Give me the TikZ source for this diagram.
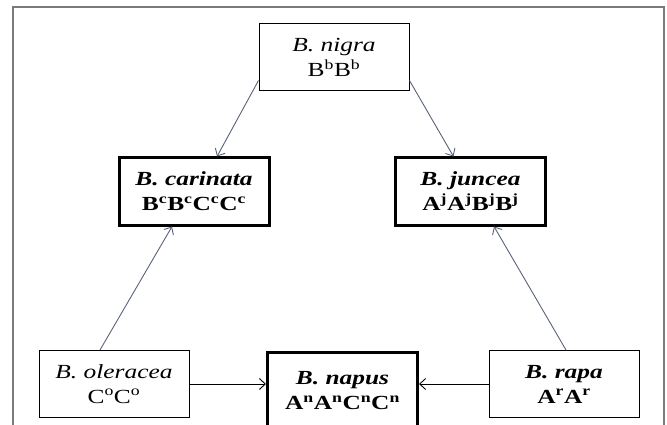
\documentclass[tikz,border=0pt]{standalone}
\usepackage{fontspec}
\setmainfont[FakeStretch=1.27]{Liberation Serif}
\usetikzlibrary{arrows.meta,calc}
\definecolor{framegray}{HTML}{7A7A7A}
\definecolor{arrowslate}{HTML}{5A6278}
\begin{document}
\begin{tikzpicture}[x=1pt,y=-1pt,
  species/.style={draw=black,line width=1pt,align=center,inner sep=0pt,
    minimum width=150pt,minimum height=67pt,
    font=\fontsize{20}{25}\selectfont},
  hybrid/.style={species,line width=3pt},
  link/.style={draw=arrowslate,line width=0.9pt,-{Straight Barb[length=6pt,width=11pt]}},
  hlink/.style={link,draw=black}]
\useasboundingbox (0,0) rectangle (667,425);
\draw[framegray,line width=1.5pt] (13,432) -- (13,7) -- (664,7) -- (664,432);
\node[species] (nigra) at (334,57.5) {\textit{B. nigra}\\B\textsuperscript{b}B\textsuperscript{b}};
\node[hybrid] (carinata) at (194,191.5) {\textbf{\textit{B. carinata}}\\\textbf{B\textsuperscript{c}B\textsuperscript{c}C\textsuperscript{c}C\textsuperscript{c}}};
\node[hybrid] (juncea) at (470.5,191.5) {\textbf{\textit{B. juncea}}\\\textbf{A\textsuperscript{j}A\textsuperscript{j}B\textsuperscript{j}B\textsuperscript{j}}};
\node[species] (oleracea) at (114,384) {\textit{B. oleracea}\\C\textsuperscript{o}C\textsuperscript{o}};
\node[hybrid,minimum height=78pt] (napus) at (342.5,391) {\textbf{\textit{B. napus}}\\\textbf{A\textsuperscript{n}A\textsuperscript{n}C\textsuperscript{n}C\textsuperscript{n}}};
\node[species] (rapa) at (564,384) {\textbf{\textit{B. rapa}}\\\textbf{A\textsuperscript{r}A\textsuperscript{r}}};
\draw[link] ($(nigra.south west)+(0,-11)$) -- ($(carinata.north)+(23,0)$);
\draw[link] ($(nigra.south east)+(0,-11)$) -- ($(juncea.north)+(-17,0)$);
\draw[link] ($(oleracea.north)+(-14,0)$) -- ($(carinata.south)+(-22,0)$);
\draw[link] ($(rapa.north)+(2,0)$) -- ($(juncea.south)+(23.5,0)$);
\draw[hlink] (oleracea.east) -- (napus.west |- oleracea.east);
\draw[hlink] (rapa.west) -- (napus.east |- rapa.west);
\end{tikzpicture}
\end{document}
